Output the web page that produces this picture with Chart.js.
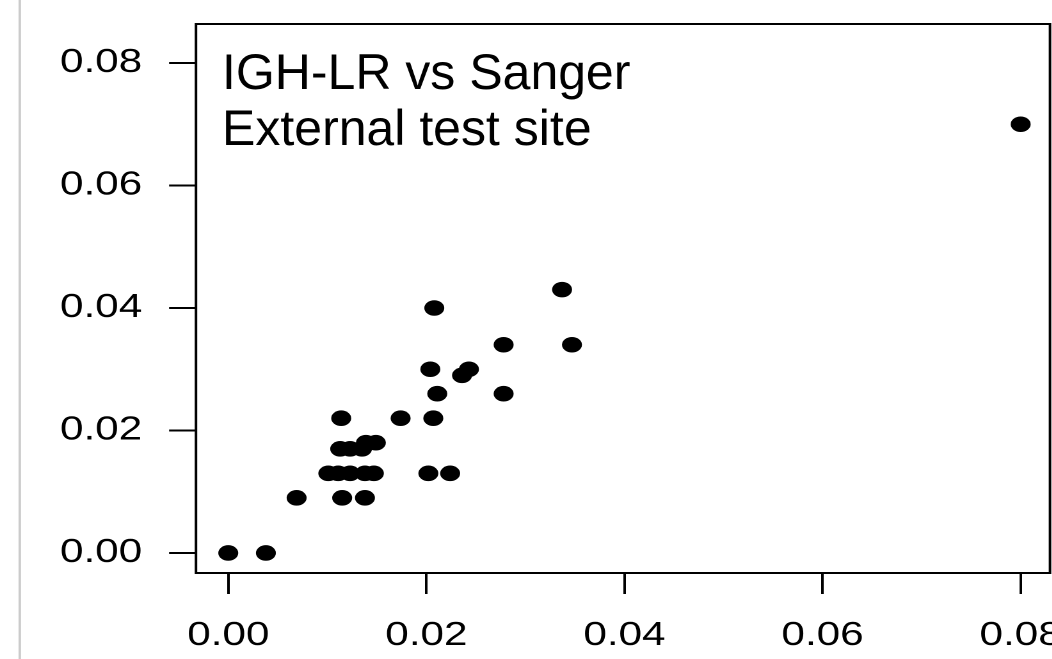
<!DOCTYPE html>
<html>
<head>
<meta charset="utf-8">
<title>IGH-LR vs Sanger</title>
<script src="https://cdn.jsdelivr.net/npm/chart.js@4.4.1/dist/chart.umd.min.js"></script>
<style>
  html, body { margin: 0; padding: 0; background: #fff; overflow: hidden; }
  /* the reference picture is stretched sideways, so the whole chart is too */
  #wrap { width: 822px; height: 659px; transform: scaleX(1.28); transform-origin: 0 0; }
</style>
</head>
<body>
<div id="wrap"><canvas id="scatter" width="822" height="659"></canvas></div>
<script>
// values
const sangerFreq = [0.0000, 0.0038, 0.0069, 0.0115, 0.0138,
                    0.0101, 0.0111, 0.0123, 0.0138, 0.0147, 0.0202, 0.0224,
                    0.0113, 0.0123, 0.0135, 0.0139, 0.0149,
                    0.0114, 0.0174, 0.0207,
                    0.0211, 0.0278, 0.0204, 0.0236, 0.0243,
                    0.0278, 0.0347, 0.0208, 0.0337, 0.0800];
const ighLrFreq  = [0.000, 0.000, 0.009, 0.009, 0.009,
                    0.013, 0.013, 0.013, 0.013, 0.013, 0.013, 0.013,
                    0.017, 0.017, 0.017, 0.018, 0.018,
                    0.022, 0.022, 0.022,
                    0.026, 0.026, 0.030, 0.029, 0.030,
                    0.034, 0.034, 0.040, 0.043, 0.070];

const xTicks = [0, 0.02, 0.04, 0.06, 0.08];
const yTicks = [0, 0.02, 0.04, 0.06, 0.08];
const xTickLabels = ['0.00', '0.02', '0.04', '0.06', '0.08'];
const yTickLabels = ['0.00', '0.02', '0.04', '0.06', '0.08'];
const titleLines = ['IGH-LR vs Sanger', 'External test site'];

const STRETCH = 1.28;
const FONT = '"Liberation Sans", Arial, Helvetica, sans-serif';

// grey rule at the far left, plot box and the (unstretched) title
const frame = {
    id: 'frame',
    beforeDraw(chart) {
        const ctx = chart.ctx;
        ctx.save();
        ctx.scale(1 / STRETCH, 1);
        ctx.fillStyle = '#cbcbcb';
        ctx.fillRect(18.5, 0, 2.5, chart.height);
        ctx.restore();
    },
    afterDraw(chart) {
        const ctx = chart.ctx;
        const a = chart.chartArea;
        ctx.save();
        ctx.strokeStyle = '#000';
        ctx.lineWidth = 2;
        ctx.strokeRect(a.left, a.top, a.right - a.left, a.bottom - a.top);

        ctx.scale(1 / STRETCH, 1);
        ctx.fillStyle = '#000';
        ctx.font = '50px ' + FONT;
        ctx.textAlign = 'left';
        ctx.textBaseline = 'alphabetic';
        titleLines.forEach((line, i) => {
            ctx.fillText(line, a.left * STRETCH + 26, a.top + 65 + i * 56);
        });
        ctx.restore();
    }
};

const tickFont = { family: FONT, size: 33 };

new Chart(document.getElementById('scatter'), {
    type: 'scatter',
    data: {
        datasets: [{
            data: sangerFreq.map((x, i) => ({ x: x, y: ighLrFreq[i] })),
            backgroundColor: '#000',
            borderWidth: 0,
            pointRadius: 7.8,
            pointHoverRadius: 7.8
        }]
    },
    options: {
        responsive: false,
        devicePixelRatio: 2,
        animation: false,
        layout: { autoPadding: false, padding: { top: 24, right: 1.7, bottom: 0, left: 0 } },
        plugins: {
            legend: { display: false },
            tooltip: { enabled: false }
        },
        scales: {
            x: {
                type: 'linear',
                min: -0.00326,
                max: 0.08296,
                afterBuildTicks: s => { s.ticks = xTicks.map(v => ({ value: v })); },
                afterFit: s => { s.height = 86; s.paddingLeft = 0; s.paddingRight = 0; },
                grid: { drawOnChartArea: false, tickLength: 21, tickWidth: 2, tickColor: '#000' },
                border: { display: false },
                ticks: {
                    color: '#000',
                    font: tickFont,
                    padding: 22,
                    maxRotation: 0,
                    autoSkip: false,
                    callback: (v, i) => xTickLabels[i]
                }
            },
            y: {
                type: 'linear',
                min: -0.00327,
                max: 0.08637,
                afterBuildTicks: s => { s.ticks = yTicks.map(v => ({ value: v })); },
                afterFit: s => { s.width = 153.1; s.paddingTop = 0; s.paddingBottom = 0; },
                grid: { drawOnChartArea: false, tickLength: 21, tickWidth: 2, tickColor: '#000' },
                border: { display: false },
                ticks: {
                    color: '#000',
                    font: tickFont,
                    padding: 21,
                    autoSkip: false,
                    callback: (v, i) => yTickLabels[i]
                }
            }
        }
    },
    plugins: [frame]
});
</script>
</body>
</html>
